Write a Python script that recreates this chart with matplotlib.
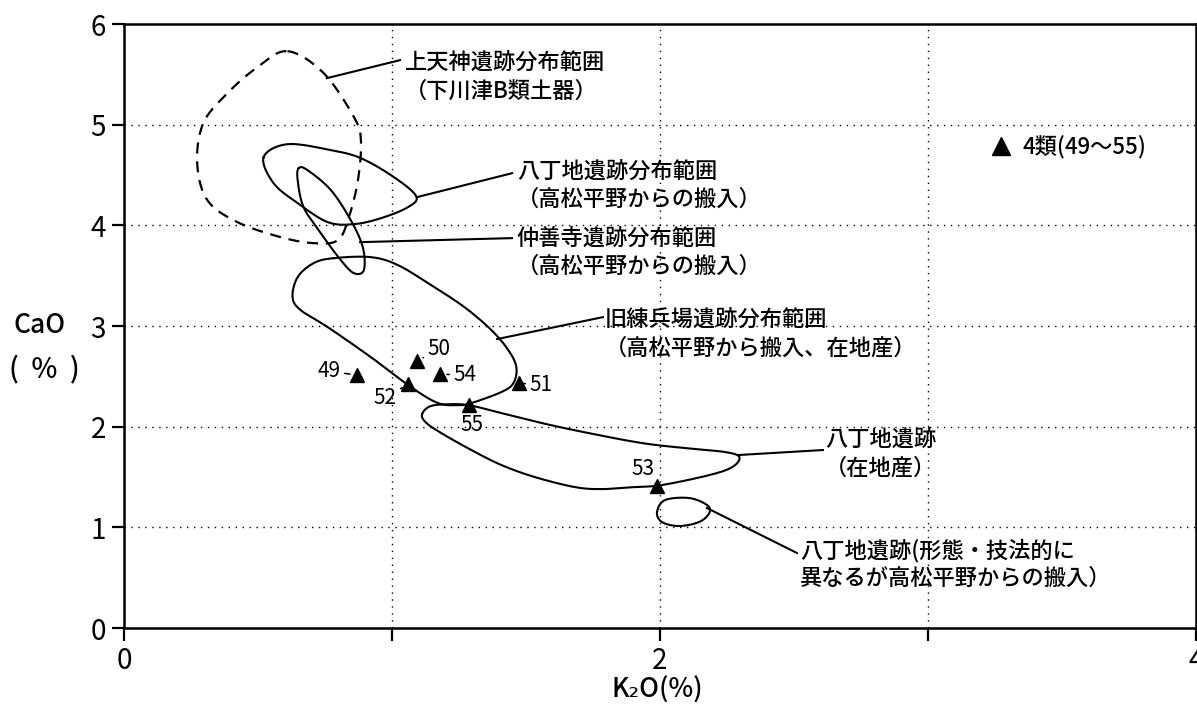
import numpy as np
import matplotlib.pyplot as plt

plt.rcParams['font.family'] = ['Noto Sans CJK JP', 'DejaVu Sans']
NUM_FONT = ['Liberation Sans Narrow', 'Noto Sans CJK JP', 'DejaVu Sans']

# sample points (K2O %, CaO %)
pt_labels = ['49', '50', '51', '52', '53', '54', '55']
pt_k2o = [0.869, 1.093, 1.474, 1.060, 1.989, 1.179, 1.287]
pt_cao = [2.512, 2.651, 2.433, 2.423, 1.410, 2.522, 2.214]

# distribution outlines (K2O, CaO)
kamitenjin = [(0.610, 5.730), (0.745, 5.512), (0.858, 5.075), (0.884, 4.846),
              (0.873, 4.449), (0.839, 4.081), (0.798, 3.853), (0.708, 3.823),
              (0.584, 3.883), (0.423, 4.032), (0.311, 4.250), (0.273, 4.618),
              (0.296, 5.015), (0.386, 5.313), (0.498, 5.571)]
hacchoji_range = [(0.521, 4.677), (0.610, 4.806), (0.772, 4.747), (0.884, 4.667),
                  (1.007, 4.479), (1.090, 4.290), (1.060, 4.181), (0.959, 4.071),
                  (0.858, 4.012), (0.760, 4.032), (0.648, 4.221), (0.558, 4.419)]
chuzenji = [(0.652, 4.568), (0.685, 4.548), (0.772, 4.350), (0.846, 4.052),
            (0.891, 3.784), (0.895, 3.555), (0.858, 3.525), (0.809, 3.654),
            (0.734, 3.923), (0.670, 4.181), (0.648, 4.449)]
kyurenpeijo = [(0.783, 3.674), (0.921, 3.684), (1.022, 3.605), (1.146, 3.406),
               (1.270, 3.188), (1.371, 2.959), (1.434, 2.761), (1.464, 2.592),
               (1.453, 2.433), (1.408, 2.344), (1.296, 2.234), (1.247, 2.214),
               (1.172, 2.234), (1.071, 2.393), (0.921, 2.691), (0.760, 2.989),
               (0.659, 3.158), (0.629, 3.287), (0.648, 3.486), (0.708, 3.625)]
hacchoji_local = [(1.112, 2.120), (1.140, 2.200), (1.200, 2.222), (1.285, 2.214),
                  (1.408, 2.135), (1.558, 2.036), (1.734, 1.936), (1.933, 1.837),
                  (2.094, 1.787), (2.243, 1.748), (2.296, 1.698), (2.270, 1.599),
                  (2.184, 1.519), (2.007, 1.420), (1.906, 1.400), (1.783, 1.380),
                  (1.682, 1.400), (1.532, 1.500), (1.408, 1.619), (1.296, 1.768),
                  (1.184, 1.936), (1.127, 2.040)]
hacchoji_other = [(1.989, 1.152), (2.019, 1.271), (2.109, 1.291), (2.176, 1.221),
                  (2.184, 1.142), (2.146, 1.053), (2.071, 1.013), (2.007, 1.053)]

# callout texts: (text, text anchor, leader start on outline, leader end)
callouts = [
    ('上天神遺跡分布範囲\n（下川津B類土器）', (1.049, 5.47), (0.757, 5.462), (1.030, 5.641)),
    ('八丁地遺跡分布範囲\n（高松平野からの搬入）', (1.466, 4.39), (1.093, 4.280), (1.448, 4.518)),
    ('仲善寺遺跡分布範囲\n（高松平野からの搬入）', (1.466, 3.73), (0.881, 3.833), (1.448, 3.873)),
    ('旧練兵場遺跡分布範囲\n（高松平野から搬入、在地産）', (1.795, 2.92), (1.392, 2.870), (1.787, 3.088)),
    ('八丁地遺跡\n（在地産）', (2.616, 1.73), (2.291, 1.718), (2.608, 1.768)),
    ('八丁地遺跡(形態・技法的に\n異なるが高松平野からの搬入）', (2.522, 0.63), (2.175, 1.192), (2.511, 0.745)),
]

# label offsets in pixels for the point numbers
pt_offsets = {'49': (-28, 4), '50': (22, 12), '51': (22, -2), '52': (-23, -14),
              '53': (-14, 17), '54': (25, -1), '55': (3, -20)}


def closed_spline(pts, n=24):
    # closed Catmull-Rom curve through the given points
    P = np.asarray(pts)
    N = len(P)
    t = np.linspace(0, 1, n, endpoint=False)[:, None]
    segs = []
    for i in range(N):
        p0, p1, p2, p3 = P[i - 1], P[i], P[(i + 1) % N], P[(i + 2) % N]
        segs.append(0.5 * (2 * p1 + (-p0 + p2) * t
                           + (2 * p0 - 5 * p1 + 4 * p2 - p3) * t ** 2
                           + (-p0 + 3 * p1 - 3 * p2 + p3) * t ** 3))
    c = np.vstack(segs)
    return np.vstack([c, c[:1]])


fig = plt.figure(figsize=(11.97, 7.12), dpi=100)
ax = fig.add_axes([124 / 1197, 84 / 712, (1196 - 124) / 1197, (628 - 24) / 712])

ax.set_xlim(0, 4)
ax.set_ylim(0, 6)
ax.set_xticks([0, 1, 2, 3, 4])
ax.set_xticklabels(['0', '', '2', '', '4'])
ax.set_yticks(range(7))
ax.set_yticklabels([str(v) for v in range(7)])
for lab in ax.get_xticklabels() + ax.get_yticklabels():
    lab.set_family(NUM_FONT)
    lab.set_fontsize(20)
ax.tick_params(direction='out', length=9, width=1.6, color='black', pad=4)
for s in ax.spines.values():
    s.set_linewidth(1.8)

for v in [1, 2, 3]:
    ax.axvline(v, color='black', lw=1.0, ls=(0, (1, 4)), zorder=0)
for v in [1, 2, 3, 4, 5]:
    ax.axhline(v, color='black', lw=1.0, ls=(0, (1, 4)), zorder=0)

c = closed_spline(kamitenjin)
ax.plot(c[:, 0], c[:, 1], color='black', lw=1.6, ls=(0, (5, 3.5)))
for outline in [hacchoji_range, chuzenji, kyurenpeijo, hacchoji_local, hacchoji_other]:
    c = closed_spline(outline)
    ax.plot(c[:, 0], c[:, 1], color='black', lw=1.5)

for txt, tpos, a, b in callouts:
    ax.plot([a[0], b[0]], [a[1], b[1]], color='black', lw=1.5)
    ax.text(tpos[0], tpos[1], txt, fontsize=16, va='center', ha='left',
            linespacing=1.25, fontweight='medium')

ax.plot(pt_k2o, pt_cao, '^', color='black', ms=10, ls='none', zorder=5)
for lab, x, y in zip(pt_labels, pt_k2o, pt_cao):
    ax.annotate(lab, (x, y), xytext=pt_offsets[lab], textcoords='offset pixels',
                ha='center', va='center', fontsize=15, family=NUM_FONT,
                arrowprops=dict(arrowstyle='-', color='black', lw=1.1,
                                shrinkA=1, shrinkB=5))

# legend
ax.plot([3.272], [4.786], '^', color='black', ms=13, ls='none')
ax.text(3.351, 4.786, '4類(49～55)', fontsize=16, va='center', ha='left',
        fontweight='medium')

# axis titles
fig.text(40 / 1197, 1 - 326 / 712, 'CaO', fontsize=19, ha='center', va='center',
         fontweight='medium')
fig.text(44 / 1197, 1 - 370 / 712, '(  %  )', fontsize=20, ha='center', va='center',
         fontweight='medium')
fig.text(657 / 1197, 1 - 690 / 712, 'K₂O(%)', fontsize=19, ha='center', va='center',
         fontweight='medium')

fig.savefig('out.png', dpi=100)
